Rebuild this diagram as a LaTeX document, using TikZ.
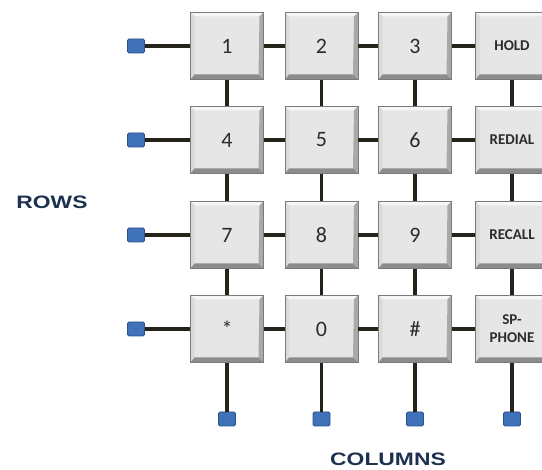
\documentclass[tikz,border=0pt]{standalone}
\usepackage{fontspec}
\setmainfont{Carlito}
\newfontfamily\labelfont{Liberation Sans}
\definecolor{keyface}{HTML}{E6E6E6}
\definecolor{keyedge}{HTML}{7A7A7A}
\definecolor{keytop}{HTML}{F6F6F6}
\definecolor{keyleft}{HTML}{DADADA}
\definecolor{keyright}{HTML}{A9A9A9}
\definecolor{keybottom}{HTML}{8C8C8C}
\definecolor{wire}{HTML}{26231A}
\definecolor{padfill}{HTML}{3F72B8}
\definecolor{paddraw}{HTML}{2A5189}
\definecolor{navy}{HTML}{1C3250}
\definecolor{keytext}{HTML}{2C2C2C}
\tikzset{
  keybox/.style={rectangle, minimum width=73pt, minimum height=67pt, inner sep=0pt,
    fill=keyface, draw=keyedge, line width=0.8pt, text=keytext, align=center,
    path picture={
      \fill[keytop] (path picture bounding box.north west) -- (path picture bounding box.north east)
        -- ([shift={(-4pt,-4pt)}]path picture bounding box.north east) -- ([shift={(4pt,-4pt)}]path picture bounding box.north west) -- cycle;
      \fill[keyleft] (path picture bounding box.north west) -- (path picture bounding box.south west)
        -- ([shift={(4pt,5pt)}]path picture bounding box.south west) -- ([shift={(4pt,-4pt)}]path picture bounding box.north west) -- cycle;
      \fill[keyright] (path picture bounding box.north east) -- (path picture bounding box.south east)
        -- ([shift={(-5pt,5pt)}]path picture bounding box.south east) -- ([shift={(-4pt,-4pt)}]path picture bounding box.north east) -- cycle;
      \fill[keybottom] (path picture bounding box.south west) -- (path picture bounding box.south east)
        -- ([shift={(-5pt,5pt)}]path picture bounding box.south east) -- ([shift={(4pt,5pt)}]path picture bounding box.south west) -- cycle;
    }},
  digit/.style={keybox, font=\fontsize{22}{24}\selectfont},
  func/.style={keybox, font=\bfseries\fontsize{15}{18}\selectfont},
  pad/.style={rectangle, minimum width=17pt, minimum height=14pt, inner sep=0pt,
    fill=padfill, draw=paddraw, line width=0.8pt, rounded corners=1.5pt},
  wireline/.style={draw=wire, line width=3.6pt},
  biglabel/.style={text=navy, font=\labelfont\bfseries\fontsize{18}{20}\selectfont, xscale=1.27}
}
\begin{document}
\begin{tikzpicture}[x=1pt,y=-1pt]
\useasboundingbox (0,0) rectangle (542,470);
% keys
\node[digit] (k11) at (227,46) {1};
\node[digit] (k12) at (321.5,46) {2};
\node[digit] (k13) at (415,46) {3};
\node[func]  (k14) at (512,46) {HOLD};
\node[digit] (k21) at (227,140) {4};
\node[digit] (k22) at (321.5,140) {5};
\node[digit] (k23) at (415,140) {6};
\node[func]  (k24) at (512,140) {REDIAL};
\node[digit] (k31) at (227,235) {7};
\node[digit] (k32) at (321.5,235) {8};
\node[digit] (k33) at (415,235) {9};
\node[func]  (k34) at (512,235) {RECALL};
\node[digit] (k41) at (227,329) {*};
\node[digit] (k42) at (321.5,329) {0};
\node[digit] (k43) at (415,329) {\#};
\node[func]  (k44) at (512,329) {SP-\\PHONE};
% row pads
\node[pad] (r1) at (136,46) {};
\node[pad] (r2) at (136,140) {};
\node[pad] (r3) at (136,235) {};
\node[pad] (r4) at (136,329) {};
% column pads
\node[pad] (c1) at (227,419) {};
\node[pad] (c2) at (321.5,419) {};
\node[pad] (c3) at (415,419) {};
\node[pad] (c4) at (512,419) {};
% row wires
\foreach \r in {1,2,3,4}{
  \draw[wireline] (r\r.east) -- (k\r1.west);
  \draw[wireline] (k\r1.east) -- (k\r2.west);
  \draw[wireline] (k\r2.east) -- (k\r3.west);
  \draw[wireline] (k\r3.east) -- (k\r4.west);
}
% column wires
\foreach \c in {1,2,3,4}{
  \draw[wireline] (k1\c.south) -- (k2\c.north);
  \draw[wireline] (k2\c.south) -- (k3\c.north);
  \draw[wireline] (k3\c.south) -- (k4\c.north);
  \draw[wireline] (k4\c.south) -- (c\c.north);
}
% labels
\node[biglabel] (rows) at (52,202) {ROWS};
\node[biglabel] (cols) at (388,459) {COLUMNS};
\end{tikzpicture}
\end{document}
